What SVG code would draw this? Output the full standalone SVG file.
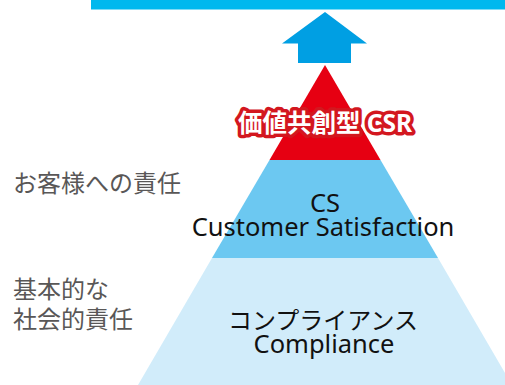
<svg xmlns="http://www.w3.org/2000/svg" width="505" height="385" viewBox="0 0 505 385">
<style>
.lbl{font-family:"Noto Sans CJK JP","Noto Sans",sans-serif;fill:#595757;font-size:24px}
.in{font-family:"Noto Sans","Noto Sans CJK JP",sans-serif;fill:#111;font-size:25.5px;text-anchor:middle}
.jp{font-family:"Noto Sans CJK JP",sans-serif;fill:#111;font-size:24px;text-anchor:middle}
.csr{font-family:"Noto Sans","Noto Sans CJK JP",sans-serif;font-weight:bold;font-size:24.5px;fill:#fff;stroke:#d3171f;stroke-width:7;stroke-linejoin:round;paint-order:stroke;text-anchor:middle}
</style>
<rect id="goal" x="91" y="0" width="414" height="9.5" fill="#00b8ee"/>
<g id="connectors">
<polygon points="325,12 367,43.5 351,43.5 351,63 298,63 298,43.5 282,43.5" fill="#009fe3"/>
</g>
<g id="base">
<polygon points="212,258 438,258 512,385 138,385" fill="#d1ecfa"/>
<text class="jp" x="323" y="329">コンプライアンス</text>
<text class="in" x="324" y="353">Compliance</text>
</g>
<g id="cs">
<polygon points="269.5,160 380.5,160 438,258 212,258" fill="#6cc8f1"/>
<text class="in" x="325" y="212">CS</text>
<text class="in" x="323" y="236">Customer Satisfaction</text>
</g>
<g id="top">
<polygon points="325,65 380.5,160 269.5,160" fill="#e60012"/>
<text class="csr" x="325" y="132">価値共創型 CSR</text>
</g>
<g id="labels">
<text class="lbl" x="13" y="192">お客様への責任</text>
<text class="lbl" x="13" y="298">基本的な</text>
<text class="lbl" x="13" y="328">社会的責任</text>
</g>
</svg>
